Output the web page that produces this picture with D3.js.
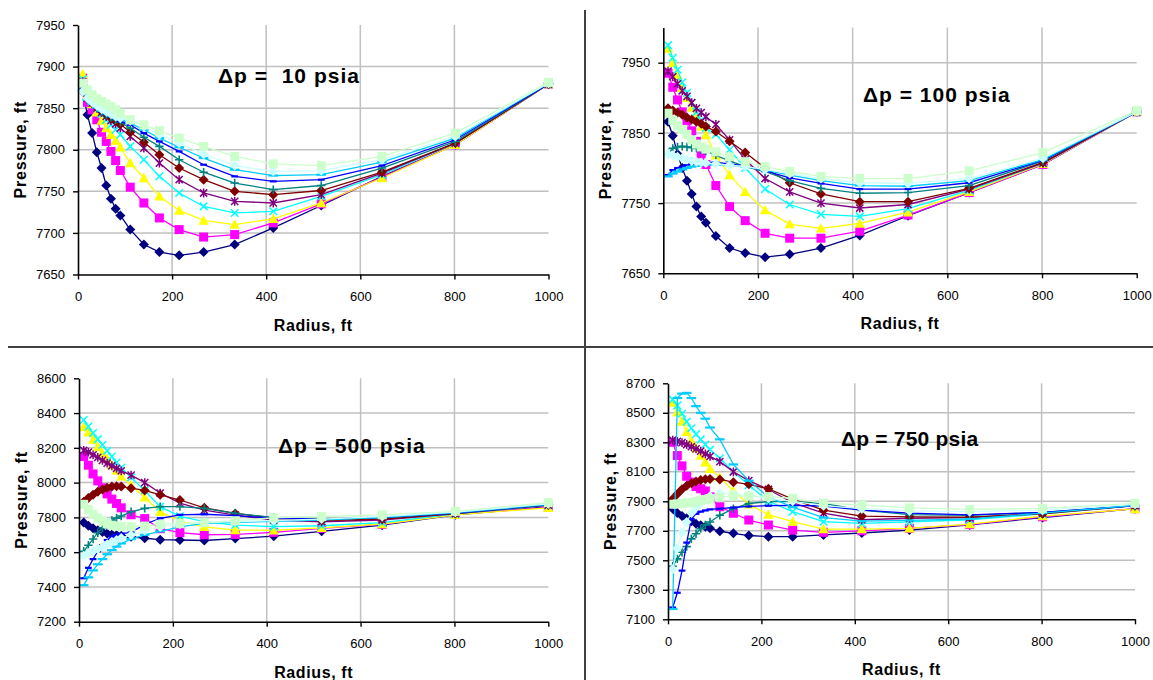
<!DOCTYPE html>
<html>
<head>
<meta charset="utf-8">
<script src="https://cdn.jsdelivr.net/npm/d3@7"></script>
<style>
  body { margin: 0; background: #fff; }
  svg { display: block; }
  text { font-family: "Liberation Sans", Arial, sans-serif; fill: #000; }
</style>
</head>
<body>
<svg id="chart" width="1153" height="680"></svg>
<script>
// Radial grid positions (ft) shared by every profile
const radius = [10, 20, 30, 40, 50, 60, 70, 80, 90, 111, 140, 173, 215, 267, 333, 415, 517, 646, 802, 1000];

// Series styling (Excel-like default sequence)
const seriesColors  = ["#000080", "#FF00FF", "#FFFF00", "#00FFFF", "#800080", "#800000", "#008080", "#0000FF", "#00CCFF", "#CCFFFF", "#CCFFCC"];
const seriesMarkers = ["diamond", "square", "triangle", "x", "star", "diamond", "plus", "dash", "longdash", "diamond", "square"];

// Pressure profiles, Δp = 10 psia
const dp10 = [
  [7870, 7842, 7820, 7797, 7778, 7757, 7741, 7729, 7721, 7704, 7686, 7677, 7673, 7677, 7686, 7706, 7733, 7768, 7806, 7879],
  [7886, 7857, 7848, 7836, 7821, 7810, 7798, 7787, 7775, 7755, 7736, 7718, 7704, 7695, 7698, 7712, 7735, 7767, 7806, 7879],
  [7891, 7866, 7855, 7845, 7835, 7826, 7818, 7811, 7803, 7784, 7766, 7744, 7727, 7715, 7710, 7717, 7736, 7766, 7806, 7879],
  [7885, 7866, 7858, 7850, 7843, 7836, 7830, 7824, 7818, 7804, 7788, 7768, 7748, 7732, 7724, 7726, 7744, 7770, 7808, 7879],
  [7882, 7862, 7856, 7850, 7845, 7840, 7835, 7831, 7826, 7816, 7802, 7784, 7764, 7748, 7738, 7736, 7746, 7772, 7808, 7879],
  [7878, 7862, 7856, 7851, 7846, 7842, 7838, 7835, 7831, 7821, 7809, 7794, 7778, 7764, 7750, 7746, 7751, 7773, 7808, 7879],
  [7876, 7860, 7855, 7850, 7846, 7842, 7839, 7836, 7833, 7826, 7815, 7804, 7788, 7773, 7760, 7752, 7757, 7778, 7810, 7879],
  [7874, 7860, 7855, 7850, 7846, 7843, 7840, 7837, 7834, 7830, 7820, 7810, 7798, 7782, 7768, 7762, 7764, 7781, 7812, 7879],
  [7872, 7860, 7855, 7851, 7847, 7844, 7841, 7838, 7836, 7832, 7824, 7814, 7803, 7790, 7776, 7769, 7770, 7785, 7814, 7880],
  [7870, 7862, 7857, 7853, 7849, 7846, 7843, 7840, 7838, 7835, 7828, 7818, 7808, 7795, 7781, 7774, 7775, 7788, 7816, 7880],
  [7880, 7872, 7866, 7861, 7858, 7855, 7852, 7848, 7844, 7836, 7830, 7823, 7814, 7804, 7792, 7783, 7781, 7792, 7820, 7881]
];

// Pressure profiles, Δp = 100 psia
const dp100 = [
  [7866, 7846, 7820, 7800, 7782, 7763, 7745, 7731, 7722, 7703, 7686, 7679, 7673, 7677, 7686, 7704, 7732, 7765, 7805, 7880],
  [7935, 7915, 7897, 7880, 7867, 7853, 7838, 7820, 7805, 7775, 7745, 7725, 7707, 7700, 7700, 7710, 7733, 7765, 7805, 7880],
  [7970, 7950, 7932, 7914, 7900, 7886, 7872, 7859, 7847, 7818, 7790, 7766, 7740, 7720, 7714, 7721, 7737, 7766, 7806, 7880],
  [7975, 7957, 7940, 7922, 7907, 7893, 7880, 7868, 7857, 7848, 7826, 7800, 7770, 7748, 7734, 7731, 7742, 7768, 7807, 7880],
  [7938, 7930, 7920, 7910, 7902, 7893, 7885, 7879, 7873, 7862, 7840, 7812, 7785, 7766, 7750, 7743, 7748, 7770, 7807, 7880],
  [7885, 7882, 7879, 7876, 7872, 7869, 7866, 7863, 7859, 7852, 7838, 7822, 7800, 7779, 7763, 7752, 7752, 7771, 7808, 7880],
  [7820, 7828, 7830, 7831, 7830, 7829, 7828, 7826, 7824, 7818, 7810, 7802, 7795, 7782, 7771, 7764, 7765, 7775, 7810, 7880],
  [7790, 7797, 7800, 7802, 7804, 7806, 7807, 7808, 7808, 7808, 7806, 7803, 7796, 7786, 7778, 7770, 7770, 7779, 7811, 7880],
  [7788, 7792, 7795, 7798, 7800, 7802, 7803, 7804, 7805, 7805, 7804, 7802, 7797, 7790, 7782, 7775, 7774, 7782, 7812, 7880],
  [7820, 7818, 7816, 7814, 7812, 7810, 7809, 7808, 7807, 7806, 7804, 7802, 7798, 7792, 7785, 7779, 7778, 7785, 7814, 7880],
  [7878, 7868, 7860, 7855, 7848, 7840, 7834, 7830, 7827, 7823, 7816, 7809, 7802, 7795, 7788, 7785, 7785, 7796, 7822, 7882]
];

// Pressure profiles, Δp = 500 psia
const dp500 = [
  [7770, 7752, 7738, 7726, 7716, 7708, 7702, 7698, 7694, 7688, 7680, 7672, 7670, 7667, 7678, 7692, 7720, 7755, 7815, 7862],
  [8150, 8100, 8050, 8010, 7970, 7935, 7905, 7880, 7855, 7815, 7793, 7735, 7712, 7700, 7702, 7714, 7737, 7760, 7817, 7858],
  [8320, 8290, 8248, 8205, 8168, 8137, 8100, 8070, 8036, 7985, 7915, 7832, 7778, 7746, 7727, 7726, 7740, 7762, 7815, 7855],
  [8360, 8322, 8285, 8250, 8218, 8183, 8150, 8115, 8085, 8030, 7955, 7862, 7806, 7775, 7756, 7747, 7752, 7770, 7820, 7870],
  [8185, 8175, 8160, 8145, 8128, 8112, 8097, 8082, 8068, 8043, 8000, 7940, 7882, 7842, 7813, 7785, 7775, 7785, 7822, 7870],
  [7890, 7912, 7930, 7948, 7960, 7970, 7977, 7979, 7977, 7968, 7955, 7930, 7900, 7855, 7823, 7795, 7782, 7790, 7822, 7872],
  [7605, 7640, 7676, 7712, 7740, 7765, 7782, 7796, 7808, 7832, 7852, 7862, 7862, 7852, 7823, 7800, 7790, 7797, 7824, 7872],
  [7450, 7510, 7560, 7605, 7640, 7670, 7690, 7700, 7706, 7714, 7760, 7795, 7815, 7818, 7810, 7795, 7790, 7800, 7825, 7874],
  [7410, 7455, 7495, 7530, 7560, 7588, 7612, 7632, 7650, 7675, 7700, 7720, 7745, 7765, 7772, 7777, 7785, 7800, 7827, 7875],
  [7580, 7595, 7605, 7618, 7630, 7645, 7660, 7670, 7682, 7698, 7725, 7745, 7760, 7770, 7776, 7782, 7790, 7805, 7830, 7878],
  [7875, 7845, 7818, 7796, 7778, 7764, 7755, 7750, 7747, 7746, 7750, 7760, 7765, 7770, 7781, 7798, 7805, 7815, 7835, 7885]
];

// Pressure profiles, Δp = 750 psia
const dp750 = [
  [7850, 7820, 7800, 7785, 7765, 7748, 7738, 7728, 7717, 7697, 7683, 7668, 7660, 7660, 7672, 7685, 7705, 7740, 7790, 7850],
  [8300, 8210, 8140, 8070, 8030, 8000, 7985, 7970, 7930, 7863, 7819, 7773, 7739, 7705, 7690, 7700, 7717, 7742, 7795, 7850],
  [8570, 8505, 8440, 8372, 8310, 8260, 8210, 8165, 8120, 8062, 7970, 7880, 7810, 7762, 7712, 7712, 7717, 7745, 7800, 7848],
  [8590, 8550, 8495, 8440, 8395, 8355, 8320, 8285, 8250, 8192, 8100, 8010, 7900, 7830, 7762, 7750, 7760, 7775, 7815, 7870],
  [8315, 8306, 8298, 8285, 8270, 8255, 8240, 8222, 8205, 8169, 8100, 8040, 7980, 7890, 7820, 7775, 7785, 7790, 7820, 7870],
  [7915, 7950, 7982, 8005, 8022, 8035, 8045, 8050, 8052, 8048, 8030, 8015, 7985, 7915, 7840, 7800, 7795, 7792, 7815, 7870],
  [7460, 7510, 7555, 7593, 7645, 7680, 7715, 7740, 7760, 7805, 7850, 7885, 7898, 7898, 7885, 7840, 7810, 7805, 7825, 7870],
  [7180, 7280, 7430, 7620, 7780, 7815, 7830, 7838, 7845, 7850, 7858, 7865, 7870, 7872, 7868, 7840, 7820, 7808, 7825, 7870],
  [7170, 8600, 8630, 8635, 8600, 8545, 8500, 8460, 8400, 8320, 8150, 8040, 7930, 7860, 7790, 7765, 7770, 7780, 7820, 7872],
  [7440, 7580, 7690, 7760, 7820, 7860, 7890, 7915, 7935, 7955, 7950, 7940, 7920, 7900, 7870, 7850, 7835, 7830, 7840, 7880],
  [7880, 7882, 7885, 7888, 7892, 7898, 7905, 7912, 7918, 7928, 7935, 7936, 7932, 7920, 7888, 7875, 7855, 7845, 7852, 7886]
];

// Axis ticks
const xTicks     = [0, 200, 400, 600, 800, 1000];
const yTicks10   = [7650, 7700, 7750, 7800, 7850, 7900, 7950];
const yTicks100  = [7650, 7750, 7850, 7950];
const yTicks500  = [7200, 7400, 7600, 7800, 8000, 8200, 8400, 8600];
const yTicks750  = [7100, 7300, 7500, 7700, 7900, 8100, 8300, 8500, 8700];

const panels = [
  { title: "Δp =  10 psia", values: dp10,  yDomain: [7650, 7950], yTicks: yTicks10,
    left: 78,    right: 548.5,  top: 25,    bottom: 274.5, titleX: 218, titleY: 83,    spacing: 1 },
  { title: "Δp = 100 psia", values: dp100, yDomain: [7650, 8000], yTicks: yTicks100,
    left: 663.3, right: 1136.7, top: 27.6,  bottom: 273.3, titleX: 863, titleY: 101.5, spacing: 1 },
  { title: "Δp = 500 psia", values: dp500, yDomain: [7200, 8600], yTicks: yTicks500,
    left: 79,    right: 548.3,  top: 378.3, bottom: 621.7, titleX: 278, titleY: 453,   spacing: 1 },
  { title: "Δp = 750 psia", values: dp750, yDomain: [7100, 8700], yTicks: yTicks750,
    left: 668,   right: 1135,   top: 383.3, bottom: 619.3, titleX: 841, titleY: 446,   spacing: 0.2 }
];

const svg = d3.select("#chart");

// Panel dividers
svg.append("line").attr("x1", 585).attr("x2", 585).attr("y1", 10).attr("y2", 680)
  .attr("stroke", "#404040").attr("stroke-width", 2);
svg.append("line").attr("x1", 8).attr("x2", 1153).attr("y1", 347).attr("y2", 347)
  .attr("stroke", "#404040").attr("stroke-width", 2);

function drawMarker(g, shape, color) {
  switch (shape) {
    case "diamond":
      g.append("path").attr("d", "M0,-5L5,0L0,5L-5,0Z").attr("fill", color);
      break;
    case "square":
      g.append("rect").attr("x", -4.5).attr("y", -4.5).attr("width", 9).attr("height", 9).attr("fill", color);
      break;
    case "triangle":
      g.append("path").attr("d", "M0,-5.2L5.2,4.2L-5.2,4.2Z").attr("fill", color);
      break;
    case "x":
      g.append("path").attr("d", "M-3.8,-3.8L3.8,3.8M-3.8,3.8L3.8,-3.8")
        .attr("stroke", color).attr("stroke-width", 1.5).attr("fill", "none");
      break;
    case "star":
      g.append("path").attr("d", "M-3.6,-3.6L3.6,3.6M-3.6,3.6L3.6,-3.6M0,-4.4L0,4.4")
        .attr("stroke", color).attr("stroke-width", 1.5).attr("fill", "none");
      break;
    case "plus":
      g.append("path").attr("d", "M-4.2,0L4.2,0M0,-4.2L0,4.2")
        .attr("stroke", color).attr("stroke-width", 1.6).attr("fill", "none");
      break;
    case "dash":
      g.append("path").attr("d", "M-3.4,0L3.4,0")
        .attr("stroke", color).attr("stroke-width", 2.2).attr("fill", "none");
      break;
    case "longdash":
      g.append("path").attr("d", "M-4.8,0L4.8,0")
        .attr("stroke", color).attr("stroke-width", 2.2).attr("fill", "none");
      break;
  }
}

panels.forEach(p => {
  const x = d3.scaleLinear().domain([0, 1000]).range([p.left, p.right]);
  const y = d3.scaleLinear().domain(p.yDomain).range([p.bottom, p.top]);
  const g = svg.append("g");

  // Gridlines
  g.append("g").selectAll("line")
    .data(p.yTicks.filter(v => v > p.yDomain[0] && v < p.yDomain[1]))
    .join("line")
    .attr("x1", p.left).attr("x2", p.right)
    .attr("y1", d => y(d)).attr("y2", d => y(d))
    .attr("stroke", "#c0c0c0").attr("stroke-width", 1.5);
  g.append("g").selectAll("line")
    .data(xTicks.filter(v => v > 0 && v < 1000))
    .join("line")
    .attr("x1", d => x(d)).attr("x2", d => x(d))
    .attr("y1", p.top).attr("y2", p.bottom)
    .attr("stroke", "#c0c0c0").attr("stroke-width", 1.5);

  // Series: line then markers, drawn in series order
  const line = d3.line().x((d, i) => x(radius[i])).y(d => y(d));
  p.values.forEach((vals, s) => {
    const color = seriesColors[s];
    g.append("path").datum(vals)
      .attr("d", line)
      .attr("fill", "none")
      .attr("stroke", color)
      .attr("stroke-width", 1.3);
    const mg = g.append("g");
    vals.forEach((v, i) => {
      const m = mg.append("g").attr("transform", `translate(${x(radius[i])},${y(v)})`);
      drawMarker(m, seriesMarkers[s], color);
    });
  });

  // Axes
  const xAxis = g.append("g")
    .attr("transform", `translate(0,${p.bottom})`)
    .call(d3.axisBottom(x).tickValues(xTicks).tickSize(5).tickSizeOuter(0).tickPadding(12).tickFormat(d3.format("d")));
  const yAxis = g.append("g")
    .attr("transform", `translate(${p.left},0)`)
    .call(d3.axisLeft(y).tickValues(p.yTicks).tickSize(5).tickSizeOuter(0).tickPadding(8).tickFormat(d3.format("d")));
  [xAxis, yAxis].forEach(a => {
    a.select(".domain").attr("stroke", "#000").attr("stroke-width", 1.6);
    a.selectAll(".tick line").attr("stroke", "#000").attr("stroke-width", 1.4);
    a.selectAll(".tick text")
      .attr("font-family", "'Liberation Sans', Arial, sans-serif")
      .attr("font-size", 13).attr("fill", "#000");
  });

  // Axis titles
  g.append("text")
    .attr("x", (p.left + p.right) / 2).attr("y", p.bottom + 56)
    .attr("text-anchor", "middle")
    .attr("font-weight", "bold").attr("font-size", 16)
    .attr("letter-spacing", 0.6)
    .text("Radius, ft");
  g.append("text")
    .attr("transform", `translate(${p.left - 52},${(p.top + p.bottom) / 2}) rotate(-90)`)
    .attr("text-anchor", "middle")
    .attr("font-weight", "bold").attr("font-size", 16)
    .attr("letter-spacing", 0.8)
    .text("Pressure, ft");

  // Panel title
  g.append("text")
    .attr("x", p.titleX).attr("y", p.titleY)
    .attr("xml:space", "preserve")
    .style("white-space", "pre")
    .attr("font-weight", "bold").attr("font-size", 21)
    .attr("letter-spacing", p.spacing)
    .text(p.title);
});
</script>
</body>
</html>
